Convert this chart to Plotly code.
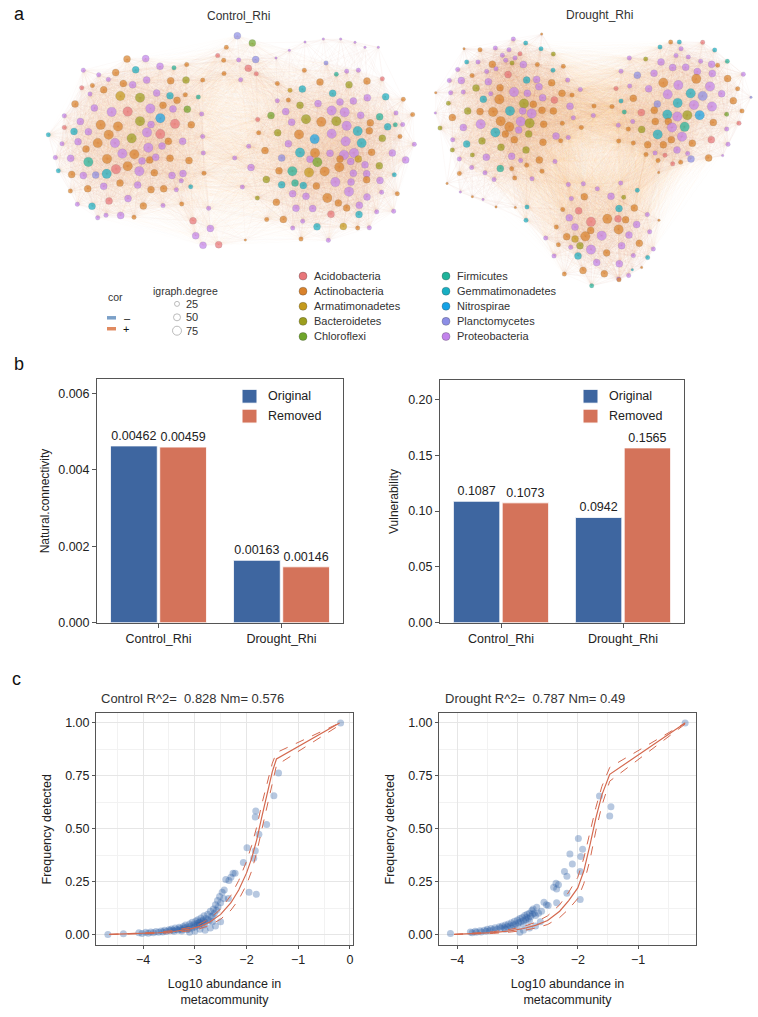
import math
import plotly.graph_objects as go

W, H = 758, 1017
FONT = "Liberation Sans, Arial, sans-serif"

# ---------------- panel a : co-occurrence networks ----------------
phyla = ["Acidobacteria", "Actinobacteria", "Armatimonadetes", "Bacteroidetes", "Chloroflexi",
         "Firmicutes", "Gemmatimonadetes", "Nitrospirae", "Planctomycetes", "Proteobacteria"]
phylum_colors = ["#E8767A", "#D9822B", "#C49A1C", "#9C9E1E", "#6FA52A",
                 "#1FB39A", "#17AFC3", "#14A2E6", "#8C8EE6", "#C283EC"]
degree_levels = [25, 50, 75]
node_px = [2.5, 4.5, 7, 9.5]   # marker size per degree class

# node layout (x, y, phylum index, degree class)
ctrl_nodes = [
    (712,108,8,2),(757,130,4,2),(679,143,1,1),(767,180,8,2),(653,168,0,1),(671,182,1,1),
    (716,181,9,1),(745,206,0,2),(769,223,0,1),(722,241,9,1),(672,222,1,1),(608,242,1,1),
    (560,195,1,1),(522,205,5,1),(915,127,9,0),(970,118,9,0),(1022,118,9,0),(1065,128,9,0),
    (1095,143,9,0),(1135,143,9,0),(868,152,9,0),(828,175,9,0),
    (381,178,1,2),(437,177,9,2),(480,200,9,2),(250,212,9,1),(296,226,9,1),(347,219,1,2),
    (407,211,6,2),(325,240,9,1),(370,252,1,2),(398,256,9,2),(440,242,9,2),(512,244,1,2),
    (558,242,3,2),(245,265,0,1),(277,258,1,1),(270,284,9,1),(311,271,1,2),(361,290,2,3),
    (420,295,3,3),(470,281,9,2),(510,289,6,2),(531,303,1,2),(556,286,1,1),(595,293,5,1),
    (225,314,1,2),(283,326,9,2),(335,338,9,3),(383,337,0,3),(451,328,9,3),(489,318,1,2),
    (519,329,9,2),(562,330,4,2),(605,344,9,1),(193,350,9,1),(241,367,9,2),(302,377,1,3),
    (354,382,1,3),(420,366,3,3),(453,376,9,2),(481,357,7,3),(525,374,0,3),(574,377,1,2),
    (193,385,0,1),(222,397,6,2),(265,398,9,2),(326,407,1,3),(395,418,3,3),(441,400,9,3),
    (481,405,0,3),(505,427,1,2),(548,427,9,2),(608,412,9,1),(145,407,6,1),(186,434,9,1),
    (234,428,9,2),(293,432,1,3),(345,432,9,3),(445,446,9,3),(486,441,9,2),(258,450,1,2),
    (367,464,9,3),(403,466,1,3),(610,462,9,1),(166,476,9,1),(212,478,9,2),(321,480,1,3),
    (426,486,9,2),(449,483,1,2),(467,475,9,2),(510,478,1,2),(567,485,1,2),(265,489,5,3),
    (175,516,6,1),(215,527,1,2),(250,530,9,2),(287,529,8,2),(320,525,6,3),(348,511,0,3),
    (383,502,1,3),(418,517,9,3),(463,522,1,2),(516,530,9,2),(549,524,9,2),(612,523,1,1),
    (544,546,9,1),(211,577,1,1),(263,570,1,2),(311,563,9,2),(360,553,1,2),(413,559,9,2),
    (453,573,1,2),(491,570,1,2),(529,573,9,1),(572,564,6,1),(232,617,9,1),(276,623,6,2),
    (327,607,0,2),(384,600,9,2),(430,622,1,2),(489,621,9,1),(545,616,1,1),(293,658,9,1),
    (318,650,9,1),(362,651,9,2),(402,656,1,1),(626,629,9,1),(579,667,0,2),(631,690,9,2),
    (587,712,9,2),(609,741,9,2),(656,739,0,2),(736,725,1,0),
    (704,477,9,1),(746,442,9,1),(773,361,0,1),(776,401,1,1),(795,455,1,2),(753,506,9,2),
    (727,565,9,1),(799,542,3,2),(772,598,3,1),(800,663,1,1),
    (832,252,1,1),(870,273,2,1),(907,269,6,2),(913,212,1,1),(978,190,8,1),(1009,224,5,1),
    (1040,215,9,1),(1075,212,9,1),(1147,238,0,1),(960,248,1,2),(1047,256,3,2),(1101,245,1,2),
    (832,304,9,1),(865,302,1,1),(900,318,3,2),(954,313,9,2),(998,282,6,2),(1020,308,9,2),
    (1060,305,9,2),(1102,295,9,2),(1157,292,6,2),(1210,300,1,1),(813,349,4,2),(857,337,9,2),
    (918,360,3,3),(964,368,1,3),(995,334,9,3),(1034,339,9,3),(1082,348,9,2),(1139,353,5,2),
    (1188,341,9,1),(1238,346,1,1),(875,369,9,2),(1009,366,3,3),(1040,380,9,3),(1111,371,1,2),
    (1163,383,6,2),(1186,377,5,1),(1208,376,9,1),(833,401,3,2),(897,406,1,3),(944,420,7,3),
    (995,404,9,3),(1073,396,6,3),(1108,395,1,2),(1147,418,3,2),(1200,412,1,1),(865,434,9,2),
    (1037,427,9,3),(1085,432,6,3),(1243,436,9,1),(900,461,6,3),(945,462,1,3),(990,463,9,2),
    (1032,468,9,3),(1062,462,9,3),(1115,460,1,2),(1177,462,9,2),(845,477,8,2),(930,481,9,2),
    (952,490,4,3),(1020,480,1,2),(1052,488,9,2),(1075,480,2,2),(1217,483,9,2),(1095,498,9,2),
    (1138,501,3,2),(877,517,5,3),(927,521,2,3),(974,518,1,3),(1018,505,1,3),(1060,523,9,2),
    (1100,525,9,2),(837,516,1,2),(1183,528,6,1),(845,558,6,2),(885,553,5,2),(910,560,6,2),
    (949,562,1,2),(1006,550,9,3),(1053,550,9,2),(1100,543,1,2),(1140,545,9,2),(878,585,9,2),
    (918,593,9,2),(982,598,1,3),(1047,579,9,3),(1101,595,9,2),(1145,581,9,1),(1192,585,1,1),
    (829,611,1,2),(888,629,9,2),(938,630,9,2),(1015,613,1,2),(1040,628,1,2),(1078,620,9,2),
    (993,647,0,2),(1077,648,6,2),(1130,640,9,1),(1181,638,9,1),(850,663,1,2),(908,668,9,1),
    (951,685,6,2),(1030,684,2,2),(878,689,9,1),(1073,689,1,1),(1108,688,9,1),(903,722,1,1),
    (985,726,9,1),
]

drought_nodes = [
    (280,118,9,1),(365,103,1,0),(317,130,6,1),(363,147,6,1),(132,147,1,0),(180,150,1,1),
    (226,145,9,1),(267,150,9,1),(300,162,0,1),(247,167,9,1),(285,175,9,1),(400,163,3,1),
    (140,187,6,1),(174,187,9,1),(217,194,1,2),(257,182,9,1),(276,190,3,1),(310,195,9,2),
    (352,195,1,1),(430,200,1,1),(113,210,9,1),(156,228,1,1),(200,216,9,1),(228,208,9,1),
    (264,225,0,2),(320,242,6,2),(350,240,9,2),(399,212,6,1),(88,243,9,1),(124,243,9,2),
    (205,247,9,2),(240,265,1,2),(357,262,9,2),(395,250,1,2),(443,242,9,1),(168,266,3,2),
    (212,283,9,1),(282,278,9,3),(322,282,9,2),(47,280,1,0),(92,280,9,1),(130,278,9,1),
    (368,295,9,2),(403,302,0,2),(426,282,1,2),(456,287,1,1),(481,270,9,1),(190,300,6,2),
    (238,300,1,3),(85,312,3,1),(312,313,3,3),(340,315,1,2),(450,321,9,2),(143,335,3,2),
    (180,337,1,2),(219,338,1,3),(270,335,6,3),(308,335,9,2),(335,343,9,3),(366,333,1,2),
    (400,335,1,2),(46,341,9,0),(97,355,1,2),(242,366,1,3),(302,367,9,3),(329,372,3,3),
    (371,375,1,2),(427,372,1,1),(460,356,9,1),(520,349,9,1),(60,387,3,1),(130,385,9,2),
    (182,375,9,3),(268,383,1,3),(296,393,9,2),(226,400,6,3),(326,405,3,2),(256,405,1,2),
    (408,411,9,2),(445,415,9,1),(484,385,1,1),(98,422,9,1),(186,426,3,2),(283,422,1,2),
    (369,430,1,2),(422,425,1,1),(140,435,6,2),(243,445,3,2),(318,453,3,2),(97,453,3,1),
    (157,468,3,1),(199,475,9,2),(275,472,9,2),(302,485,9,1),(358,483,1,2),(405,488,9,1),
    (118,480,9,1),(275,510,1,1),(320,499,1,1),(155,506,9,1),(241,509,5,2),(195,522,9,1),
    (118,524,1,1),(366,517,1,1),(284,538,1,1),(336,540,9,1),(222,542,9,1),(81,554,1,0),
    (121,580,9,0),(189,603,9,0),(157,594,1,0),(228,625,1,0),(286,627,1,0),(321,625,6,1),
    (318,665,6,1),
    (720,142,6,1),(752,127,1,1),(778,127,6,1),(848,128,0,1),(884,151,6,1),(783,147,9,1),
    (628,175,9,1),(677,178,3,1),(723,187,9,2),(768,168,9,1),(805,172,9,1),(842,185,9,1),
    (875,194,9,2),(893,197,1,1),(922,185,5,1),(603,215,9,1),(652,227,8,2),(702,221,9,2),
    (758,204,9,2),(797,203,9,2),(832,216,9,2),(877,222,9,2),(923,237,1,2),(970,224,9,1),
    (588,267,0,1),(629,260,9,1),(686,268,9,2),(730,250,1,3),(775,257,9,3),(829,238,1,3),
    (870,261,9,3),(953,268,1,1),(993,294,8,0),(603,305,6,1),(640,297,1,2),(712,314,8,2),
    (743,285,9,3),(773,311,6,3),(812,282,6,3),(848,290,8,3),(905,283,9,2),(940,304,1,2),
    (522,320,1,1),(576,322,1,1),(613,338,5,1),(664,340,0,2),(822,317,9,3),(876,322,9,3),
    (966,335,1,1),(920,345,4,1),(638,367,9,1),(703,333,1,2),(742,346,6,3),(772,352,9,3),
    (802,348,3,3),(839,348,7,3),(595,378,9,1),(625,390,1,1),(665,391,3,2),(706,367,1,2),
    (745,367,1,2),(756,385,9,3),(794,383,5,3),(880,370,1,2),(920,390,9,1),(957,372,0,1),
    (640,432,1,1),(683,437,1,2),(713,406,6,3),(730,437,1,2),(754,422,1,2),(786,413,9,3),
    (817,433,1,2),(874,422,0,2),(924,436,9,1),(596,426,1,1),(678,467,1,1),(705,462,9,1),
    (735,469,0,1),(771,453,9,2),(803,464,9,1),(866,477,1,2),(908,470,9,0),(714,485,1,1),
    (758,495,0,1),(782,490,1,1),(813,480,8,2),(716,521,1,0),
    (445,557,9,1),(490,555,9,1),(532,570,9,1),(602,553,9,1),(652,575,6,1),(454,600,9,1),
    (493,594,1,2),(573,593,9,2),(611,596,3,1),(428,633,1,1),(476,637,0,2),(597,630,6,2),
    (643,628,1,2),(448,658,9,2),(513,670,0,3),(562,661,1,3),(594,661,0,2),(617,664,1,2),
    (682,648,9,1),(409,686,1,1),(465,686,9,2),(512,696,1,2),(596,693,1,3),(650,678,9,2),
    (440,715,1,2),(465,722,2,2),(496,714,1,3),(545,712,9,3),(627,710,9,2),(689,700,9,1),
    (717,665,1,0),(415,739,1,1),(452,747,9,1),(480,742,3,2),(513,754,9,3),(560,764,1,2),
    (605,742,9,2),(658,735,1,2),(377,719,9,1),(402,773,9,1),(474,773,6,2),(530,793,9,2),
    (598,797,9,2),(640,772,9,1),(683,778,6,1),(700,752,9,1),(433,828,1,1),(489,817,1,2),
    (553,827,1,2),(596,843,9,1),(626,832,9,1),(665,808,1,0),(637,815,6,0),(515,863,5,1),
    (597,845,1,1),
]

# ---------------- panel b : robustness bars ----------------
groups = ["Control_Rhi", "Drought_Rhi"]
natural_original = [0.00462, 0.00163]
natural_removed = [0.00459, 0.00146]
natural_labels_original = ["0.00462", "0.00163"]
natural_labels_removed = ["0.00459", "0.00146"]
vuln_original = [0.1087, 0.0942]
vuln_removed = [0.1073, 0.1565]
vuln_labels_original = ["0.1087", "0.0942"]
vuln_labels_removed = ["0.1073", "0.1565"]

# ---------------- panel c : neutral community model ----------------
ctrl_fit_x = [-4.65, -4.3, -4.0, -3.7, -3.4, -3.1, -2.9, -2.7, -2.5, -2.3, -2.15, -2.0, -1.9, -1.8,
              -1.7, -1.6, -1.5, -1.42, -0.2]
ctrl_fit = [0.0, 0.002, 0.004, 0.008, 0.014, 0.025, 0.038, 0.06, 0.095, 0.15, 0.21, 0.29, 0.36, 0.45,
            0.56, 0.67, 0.77, 0.83, 1.0]
ctrl_fit_upper = [0.0, 0.003, 0.006, 0.011, 0.019, 0.033, 0.05, 0.077, 0.12, 0.185, 0.255, 0.345, 0.42,
                  0.51, 0.62, 0.72, 0.81, 0.86, 1.0]
ctrl_fit_lower = [0.0, 0.001, 0.002, 0.005, 0.009, 0.017, 0.027, 0.045, 0.072, 0.115, 0.165, 0.235,
                  0.30, 0.39, 0.50, 0.61, 0.72, 0.80, 0.99]

drought_fit_x = [-4.05, -3.7, -3.4, -3.1, -2.9, -2.7, -2.5, -2.3, -2.15, -2.0, -1.9, -1.8, -1.7, -1.6,
                 -1.47, -0.22]
drought_fit = [0.0, 0.004, 0.009, 0.018, 0.028, 0.043, 0.066, 0.11, 0.16, 0.22, 0.30, 0.42, 0.55, 0.66,
               0.757, 1.0]
drought_fit_upper = [0.0, 0.006, 0.013, 0.025, 0.038, 0.057, 0.088, 0.14, 0.20, 0.27, 0.36, 0.48, 0.60,
                     0.70, 0.79, 1.0]
drought_fit_lower = [0.0, 0.002, 0.005, 0.012, 0.019, 0.030, 0.047, 0.08, 0.12, 0.17, 0.24, 0.35, 0.49,
                     0.61, 0.725, 0.995]

ctrl_points = [
    (-4.68,0.0),(-4.38,0.003),(-4.08,0.008),(-4.02,0.005),(-3.95,0.01),(-3.9,0.006),(-3.85,0.012),
    (-3.8,0.008),(-3.75,0.014),(-3.7,0.01),(-3.65,0.016),(-3.62,0.012),(-3.58,0.02),(-3.55,0.014),
    (-3.5,0.022),(-3.48,0.017),(-3.45,0.026),(-3.42,0.02),(-3.4,0.015),(-3.38,0.03),(-3.35,0.024),
    (-3.32,0.02),(-3.3,0.034),(-3.28,0.028),(-3.25,0.022),(-3.22,0.038),(-3.2,0.03),(-3.18,0.045),
    (-3.15,0.035),(-3.12,0.026),(-3.1,0.05),(-3.08,0.04),(-3.05,0.058),(-3.02,0.046),(-3.0,0.035),
    (-2.98,0.064),(-2.96,0.052),(-2.94,0.07),(-2.92,0.042),(-2.9,0.06),(-2.88,0.078),(-2.86,0.05),
    (-2.84,0.068),(-2.82,0.088),(-2.8,0.058),(-2.78,0.075),(-2.75,0.095),(-2.72,0.065),(-2.7,0.11),
    (-2.68,0.085),(-2.66,0.06),(-2.64,0.12),(-2.62,0.1),(-2.6,0.14),(-2.58,0.115),(-2.56,0.16),
    (-2.55,0.13),(-2.52,0.18),(-2.5,0.15),(-2.47,0.2),(-2.44,0.17),(-2.4,0.26),(-2.34,0.255),
    (-2.3,0.27),(-2.26,0.29),(-2.22,0.29),(-2.35,0.17),(-2.43,0.21),(-1.99,0.41),(-2.06,0.34),
    (-1.95,0.2),(-1.81,0.19),(-1.86,0.36),(-1.83,0.396),(-1.76,0.474),(-1.61,0.52),(-1.83,0.556),
    (-1.82,0.584),(-1.47,0.656),(-1.38,0.763),(-0.18,1.0),(-2.8,0.02),(-3.0,0.015),(-2.9,0.025),
    (-3.1,0.01),(-2.6,0.04),(-2.7,0.03),(-2.5,0.06),(-3.05,0.03),(-2.95,0.045),(-2.85,0.06),
    (-2.75,0.07),(-2.65,0.09),(-3.15,0.022),(-3.25,0.016),(-2.92,0.055),(-2.82,0.045),
]

drought_points = [
    (-4.11,0.005),(-3.78,0.012),(-3.75,0.008),(-3.7,0.015),(-3.68,0.01),(-3.62,0.018),(-3.6,0.012),
    (-3.55,0.02),(-3.52,0.015),(-3.5,0.025),(-3.46,0.018),(-3.44,0.028),(-3.4,0.022),(-3.37,0.032),
    (-3.34,0.025),(-3.3,0.036),(-3.28,0.03),(-3.25,0.04),(-3.22,0.032),(-3.2,0.045),(-3.17,0.036),
    (-3.15,0.05),(-3.12,0.04),(-3.1,0.055),(-3.07,0.045),(-3.05,0.062),(-3.03,0.05),(-3.0,0.068),
    (-2.98,0.055),(-2.96,0.075),(-2.94,0.06),(-2.92,0.08),(-2.9,0.065),(-2.88,0.09),(-2.86,0.07),
    (-2.84,0.095),(-2.82,0.075),(-2.8,0.1),(-2.78,0.085),(-2.76,0.113),(-2.74,0.12),(-2.72,0.1),
    (-2.7,0.09),(-2.68,0.129),(-2.65,0.1),(-2.6,0.11),(-2.56,0.152),(-2.52,0.14),(-2.49,0.137),
    (-2.96,0.011),(-2.9,0.02),(-2.8,0.03),(-2.7,0.04),(-2.62,0.06),(-2.35,0.15),(-2.36,0.242),
    (-2.40,0.223),(-2.35,0.215),(-2.32,0.235),(-2.18,0.195),(-1.96,0.165),(-2.22,0.298),
    (-2.18,0.275),(-1.96,0.298),(-2.09,0.333),(-2.13,0.38),(-1.95,0.369),(-1.92,0.403),
    (-1.99,0.454),(-1.47,0.56),(-1.45,0.604),(-1.64,0.655),(-0.22,1.0),(-3.0,0.04),(-2.9,0.05),
    (-2.8,0.065),(-3.1,0.03),(-3.2,0.025),(-2.85,0.08),(-2.75,0.095),
]

BLUE = "#3E66A0"
ORANGE = "#D4735A"
FIT = "#D4694F"


def px(x):
    return x / W


def py(y):
    return 1 - y / H


fig = go.Figure()


def add_network(nodes, xa, ya, near, far):
    # edges: every pair of nodes closer than the cut-off, drawn as faint lines
    near_edges, far_edges = [], []
    for i in range(len(nodes)):
        for j in range(i + 1, len(nodes)):
            d = math.dist(nodes[i][:2], nodes[j][:2])
            if d < near:
                near_edges.append((i, j))
            elif d < far and nodes[i][3] > 0 and nodes[j][3] > 0:
                far_edges.append((i, j))
    pos_far = [e for k, e in enumerate(far_edges) if k % 5]
    neg_far = [e for k, e in enumerate(far_edges) if not k % 5]
    layers = [(neg_far, "rgba(150,170,200,0.03)", 0.4, 100),
              (pos_far, "rgba(225,160,125,0.045)", 0.4, 100),
              (near_edges, "rgba(220,150,110,0.09)", 0.5, 60)]
    for edges, col, width, chunk in layers:
        for k in range(0, len(edges), chunk):
            ex, ey = [], []
            for i, j in edges[k:k + chunk]:
                ex += [nodes[i][0], nodes[j][0], None]
                ey += [nodes[i][1], nodes[j][1], None]
            fig.add_trace(go.Scatter(x=ex, y=ey, mode="lines", xaxis=xa, yaxis=ya,
                                     line=dict(color=col, width=width),
                                     hoverinfo="skip", showlegend=False))
    fig.add_trace(go.Scatter(
        x=[n[0] for n in nodes], y=[n[1] for n in nodes], mode="markers", xaxis=xa, yaxis=ya,
        marker=dict(color=[phylum_colors[n[2]] for n in nodes],
                    size=[node_px[n[3]] for n in nodes],
                    line=dict(color="rgba(60,60,60,0.35)", width=0.4)),
        text=[phyla[n[2]] for n in nodes], hoverinfo="text", showlegend=False))


add_network(ctrl_nodes, "x", "y", 180, 430)
add_network(drought_nodes, "x2", "y2", 170, 460)

# bars
for xa, ya, orig, rem, lo, lr in [("x3", "y3", natural_original, natural_removed,
                                   natural_labels_original, natural_labels_removed),
                                  ("x4", "y4", vuln_original, vuln_removed,
                                   vuln_labels_original, vuln_labels_removed)]:
    fig.add_trace(go.Bar(x=groups, y=orig, name="Original", marker=dict(color=BLUE, line=dict(color="white", width=0.8)),
                         text=lo, textposition="outside", cliponaxis=False,
                         textfont=dict(size=12.5, color="#222"), xaxis=xa, yaxis=ya, showlegend=False))
    fig.add_trace(go.Bar(x=groups, y=rem, name="Removed", marker=dict(color=ORANGE, line=dict(color="white", width=0.8)),
                         text=lr, textposition="outside", cliponaxis=False,
                         textfont=dict(size=12.5, color="#222"), xaxis=xa, yaxis=ya, showlegend=False))

# neutral model panels
for xa, ya, pts, fx, fy, fu, fl in [("x5", "y5", ctrl_points, ctrl_fit_x, ctrl_fit, ctrl_fit_upper, ctrl_fit_lower),
                                    ("x6", "y6", drought_points, drought_fit_x, drought_fit,
                                     drought_fit_upper, drought_fit_lower)]:
    fig.add_trace(go.Scatter(x=[p[0] for p in pts], y=[p[1] for p in pts], mode="markers",
                             marker=dict(color="rgba(45,95,165,0.34)", size=7, line=dict(width=0)),
                             xaxis=xa, yaxis=ya, showlegend=False))
    fig.add_trace(go.Scatter(x=fx, y=fy, mode="lines", line=dict(color=FIT, width=1.2),
                             xaxis=xa, yaxis=ya, showlegend=False))
    for band in (fu, fl):
        fig.add_trace(go.Scatter(x=fx, y=band, mode="lines", line=dict(color=FIT, width=1, dash="dash"),
                                 xaxis=xa, yaxis=ya, showlegend=False))

# legend keys for panel a, on a full-page helper axis in page pixels
col_x = [303, 446]
fig.add_trace(go.Scatter(
    x=[col_x[i // 5] for i in range(len(phyla))],
    y=[278 + 15.2 * (i % 5) for i in range(len(phyla))],
    mode="markers", marker=dict(color=phylum_colors, size=8, line=dict(color="rgba(60,60,60,0.5)", width=0.6)),
    xaxis="x7", yaxis="y7", showlegend=False, hoverinfo="skip"))
fig.add_trace(go.Scatter(
    x=[177] * 3, y=[306 + 13.5 * i for i in range(3)], mode="markers",
    marker=dict(color="white", size=[5, 7, 9], line=dict(color="#888", width=0.8)),
    xaxis="x7", yaxis="y7", showlegend=False, hoverinfo="skip"))
for k, col in enumerate(["#7BA0C8", "#E08A60"]):
    fig.add_trace(go.Scatter(x=[107, 116], y=[320 + 11 * k] * 2, mode="lines",
                             line=dict(color=col, width=3.5), xaxis="x7", yaxis="y7",
                             showlegend=False, hoverinfo="skip"))

ann = []


def text(x, y, s, size=11, anchor="left", color="#333"):
    ann.append(dict(x=px(x), y=py(y), xref="paper", yref="paper", text=s, showarrow=False,
                    xanchor=anchor, yanchor="middle", font=dict(size=size, color=color, family=FONT)))


text(12, 14, "a", 18, color="#111")
text(12, 367, "b", 18, color="#111")
text(10, 684, "c", 18, color="#111")
text(238, 16, "Control_Rhi", 12, "center")
text(599, 15, "Drought_Rhi", 12, "center")
for i, name in enumerate(phyla):
    text(col_x[i // 5] + 9, 278 + 15.2 * (i % 5), name, 11)
text(106, 299, "cor", 10.5)
text(122, 320, "\u2013", 11, color="#111")
text(121, 331, "+", 11, color="#111")
text(151, 293, "igraph.degree", 10.5)
for i, lv in enumerate(degree_levels):
    text(184, 306 + 13.5 * i, str(lv), 11)
text(99, 703, "Control R^2=\u00a0 0.828 Nm= 0.576", 13)
text(443, 703, "Drought R^2=\u00a0 0.787 Nm= 0.49", 13)

shapes = []
for left in (242, 583):
    for k, (col, lab) in enumerate([(BLUE, "Original"), (ORANGE, "Removed")]):
        y0 = 392 + 20 * k
        shapes.append(dict(type="rect", xref="paper", yref="paper", x0=px(left), x1=px(left + 15),
                           y0=py(y0 + 14), y1=py(y0), fillcolor=col, line=dict(color="white", width=1)))
        text(left + 24, y0 + 7, lab, 12.5, color="#222")

net_ax = dict(visible=False, showgrid=False, zeroline=False, fixedrange=True)
bar_ax = dict(showline=True, mirror=True, linecolor="#555", linewidth=1, ticks="outside", ticklen=4,
              tickcolor="#555", showgrid=False, zeroline=False,
              tickfont=dict(size=12.5, color="#222", family=FONT))
sc_ax = dict(showline=True, mirror=True, linecolor="#555", linewidth=1, ticks="outside", ticklen=3,
             tickcolor="#555", showgrid=True, gridcolor="#E6E6E6", gridwidth=0.8, zeroline=False,
             tickfont=dict(size=12.5, color="#222", family=FONT))

fig.update_layout(
    width=W, height=H, margin=dict(l=0, r=0, t=0, b=0),
    paper_bgcolor="white", plot_bgcolor="rgba(0,0,0,0)",
    font=dict(family=FONT, color="#333"),
    barmode="group", bargap=0.2, bargroupgap=0.05,
    annotations=ann, shapes=shapes,
    xaxis=dict(domain=[0, px(420)], range=[0, 1260], **net_ax),
    yaxis=dict(domain=[py(260), 1], range=[780, 0], **net_ax),
    xaxis2=dict(domain=[px(420), 1], range=[0, 1014], **net_ax),
    yaxis2=dict(domain=[py(300), 1], range=[900, 0], **net_ax),
    xaxis3=dict(domain=[px(97), px(343)], anchor="y3", range=[-0.5, 1.5], **bar_ax),
    yaxis3=dict(domain=[py(627), py(382)], anchor="x3", range=[0, 0.00636], tickformat=".3f",
                dtick=0.002, title=dict(text="Natural.connectivity", font=dict(size=12, color="#222"),
                                        standoff=6), **bar_ax),
    xaxis4=dict(domain=[px(440), px(684)], anchor="y4", range=[-0.5, 1.5], **bar_ax),
    yaxis4=dict(domain=[py(627), py(383)], anchor="x4", range=[0, 0.217], tickformat=".2f",
                dtick=0.05, title=dict(text="Vulnerability", font=dict(size=12, color="#222"),
                                       standoff=6), **bar_ax),
    xaxis5=dict(domain=[px(96), px(353)], anchor="y5", range=[-4.91, 0.06], dtick=1, tick0=0,
                minor=dict(dtick=0.5, tick0=0, showgrid=True, gridcolor="#F2F2F2"),
                title=dict(text="Log10 abundance in<br>metacommunity", font=dict(size=12.5, color="#222"),
                           standoff=12), **sc_ax),
    yaxis5=dict(domain=[py(952), py(718)], anchor="x5", range=[-0.052, 1.047], dtick=0.25, tick0=0,
                tickformat=".2f", minor=dict(dtick=0.125, tick0=0, showgrid=True, gridcolor="#F2F2F2"),
                title=dict(text="Frequency detected", font=dict(size=12.5, color="#222"), standoff=10),
                **sc_ax),
    xaxis6=dict(domain=[px(439), px(696)], anchor="y6", range=[-4.30, -0.04], dtick=1, tick0=0,
                minor=dict(dtick=0.5, tick0=0, showgrid=True, gridcolor="#F2F2F2"),
                title=dict(text="Log10 abundance in<br>metacommunity", font=dict(size=12.5, color="#222"),
                           standoff=12), **sc_ax),
    yaxis6=dict(domain=[py(952), py(718)], anchor="x6", range=[-0.052, 1.047], dtick=0.25, tick0=0,
                tickformat=".2f", minor=dict(dtick=0.125, tick0=0, showgrid=True, gridcolor="#F2F2F2"),
                title=dict(text="Frequency detected", font=dict(size=12.5, color="#222"), standoff=10),
                **sc_ax),
    xaxis7=dict(domain=[0, 1], range=[0, W], anchor="y7", **net_ax),
    yaxis7=dict(domain=[0, 1], range=[H, 0], anchor="x7", **net_ax),
)

# the page's default body margin would push the figure 8px off the window
fig.write_html("out.html", config={"displayModeBar": False},
               post_script="document.body.style.margin='0';")
